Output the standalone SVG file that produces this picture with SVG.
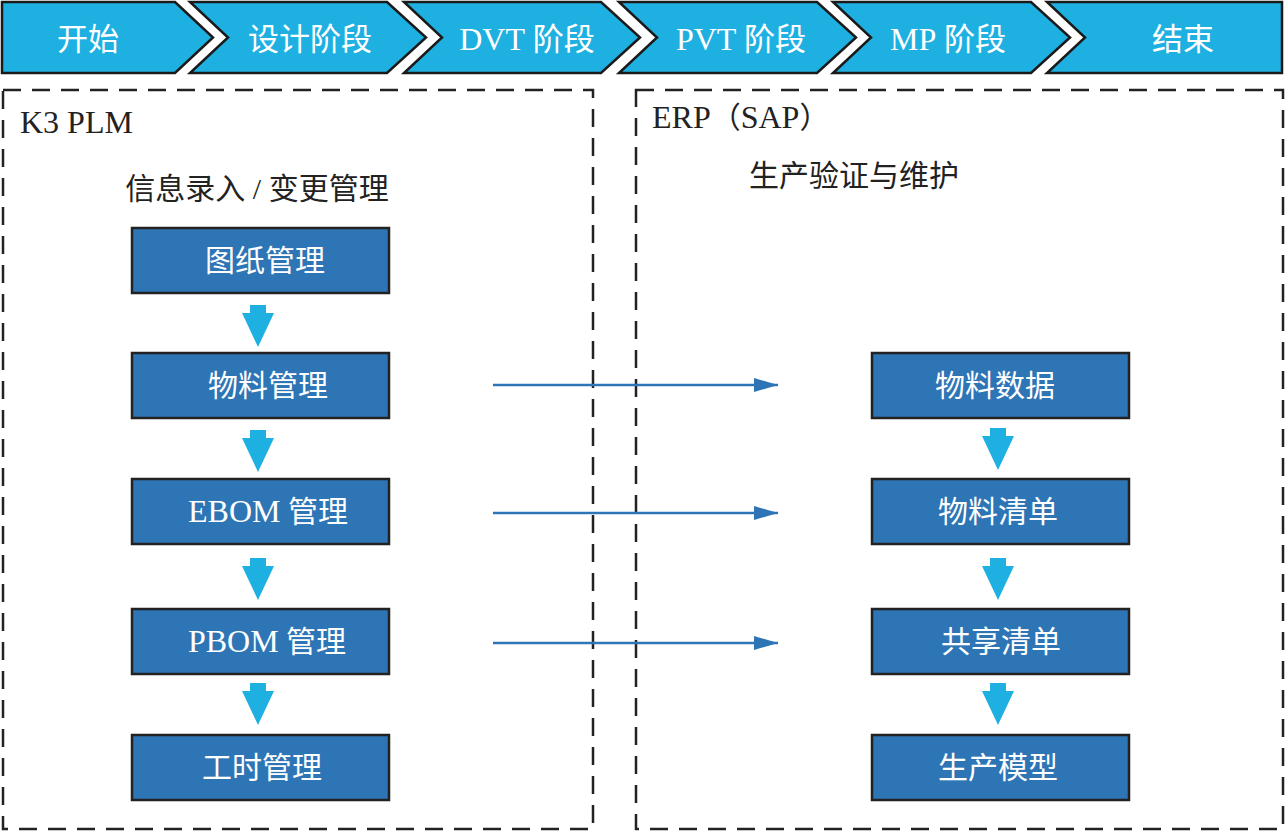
<svg xmlns="http://www.w3.org/2000/svg" width="1286" height="831" viewBox="0 0 1286 831">
<style>
.chev{fill:#1fb0e2;stroke:#1a1a1a;stroke-width:2.5;stroke-linejoin:miter}
.ct{font-family:"Liberation Serif","Noto Sans CJK SC",serif;font-size:31px;fill:#fff;text-anchor:middle}
.frame{fill:none;stroke:#222;stroke-width:2.5;stroke-dasharray:18 11}
.lbl{font-family:"Liberation Serif","Noto Sans CJK SC",serif;font-size:30px;fill:#222}
.box{fill:#2e75b6;stroke:#222;stroke-width:2.5}
.bt{font-family:"Liberation Serif","Noto Sans CJK SC",serif;font-size:30px;fill:#fff;text-anchor:middle}
.lat{font-size:32px}
.dn{fill:#1fb0e2}
.conn{stroke:#2e75b6;stroke-width:2.5;fill:none}
</style>
<defs>
<marker id="ah" markerUnits="userSpaceOnUse" markerWidth="26" markerHeight="14" refX="24" refY="7" orient="auto">
<path d="M0,0 L24,7 L0,14 Z" fill="#2e75b6"/>
</marker>
<path id="darrow" d="M-8,0 H8 V8 H16 L0,42 L-16,8 H-8 Z"/>
</defs>

<g id="stages">
<g id="stage-start"><path class="chev" d="M2,2 H175 L213,37.5 L175,73 H2 Z"/><text class="ct" x="88" y="50">开始</text></g>
<g id="stage-design"><path class="chev" d="M190,2 H387 L426,37.5 L387,73 H190 L228,37.5 Z"/><text class="ct" x="310" y="50">设计阶段</text></g>
<g id="stage-dvt"><path class="chev" d="M404,2 H601 L640,37.5 L601,73 H404 L442,37.5 Z"/><text class="ct" x="527" y="50"><tspan class="lat">DVT</tspan> 阶段</text></g>
<g id="stage-pvt"><path class="chev" d="M619,2 H817 L856,37.5 L817,73 H619 L657,37.5 Z"/><text class="ct" x="741" y="50"><tspan class="lat">PVT</tspan> 阶段</text></g>
<g id="stage-mp"><path class="chev" d="M833,2 H1031 L1070,37.5 L1031,73 H833 L871,37.5 Z"/><text class="ct" x="948" y="50"><tspan class="lat">MP</tspan> 阶段</text></g>
<g id="stage-end"><path class="chev" d="M1047,2 H1282 V73 H1047 L1085,37.5 Z"/><text class="ct" x="1183" y="50">结束</text></g>
</g>

<g id="plm-frame">
<rect class="frame" x="3" y="90" width="590" height="739"/>
<text class="lbl" x="20" y="133"><tspan class="lat">K3 PLM</tspan></text>
<text class="lbl" x="257" y="199" text-anchor="middle">信息录入 / 变更管理</text>
</g>
<g id="erp-frame">
<rect class="frame" x="636" y="90" width="647" height="739"/>
<text class="lbl" x="652" y="128"><tspan class="lat">ERP</tspan>（<tspan class="lat">SAP</tspan>）</text>
<text class="lbl" x="854" y="186" text-anchor="middle">生产验证与维护</text>
</g>

<g id="n-drawing"><rect class="box" x="132" y="228" width="257" height="65"/><text class="bt" x="265" y="271">图纸管理</text></g>
<g id="n-material"><rect class="box" x="132" y="353" width="257" height="65"/><text class="bt" x="268" y="396">物料管理</text></g>
<g id="n-ebom"><rect class="box" x="132" y="479" width="257" height="65"/><text class="bt" x="268" y="522"><tspan class="lat">EBOM</tspan> 管理</text></g>
<g id="n-pbom"><rect class="box" x="132" y="609" width="257" height="65"/><text class="bt" x="267" y="652"><tspan class="lat">PBOM</tspan> 管理</text></g>
<g id="n-hours"><rect class="box" x="132" y="735" width="257" height="65"/><text class="bt" x="262" y="778">工时管理</text></g>

<g id="n-matdata"><rect class="box" x="872" y="353" width="257" height="65"/><text class="bt" x="995" y="396">物料数据</text></g>
<g id="n-bom"><rect class="box" x="872" y="479" width="257" height="65"/><text class="bt" x="998" y="522">物料清单</text></g>
<g id="n-shared"><rect class="box" x="872" y="609" width="257" height="65"/><text class="bt" x="1001" y="652">共享清单</text></g>
<g id="n-model"><rect class="box" x="872" y="735" width="257" height="65"/><text class="bt" x="998" y="778">生产模型</text></g>

<g id="connectors">
<use href="#darrow" class="dn" x="258" y="305"/>
<use href="#darrow" class="dn" x="258" y="430"/>
<use href="#darrow" class="dn" x="258" y="558"/>
<use href="#darrow" class="dn" x="258" y="683"/>
<use href="#darrow" class="dn" x="998" y="428"/>
<use href="#darrow" class="dn" x="998" y="558"/>
<use href="#darrow" class="dn" x="998" y="683"/>
<line class="conn" x1="493" y1="385" x2="778" y2="385" marker-end="url(#ah)"/>
<line class="conn" x1="493" y1="513" x2="778" y2="513" marker-end="url(#ah)"/>
<line class="conn" x1="493" y1="643" x2="778" y2="643" marker-end="url(#ah)"/>
</g>
</svg>
